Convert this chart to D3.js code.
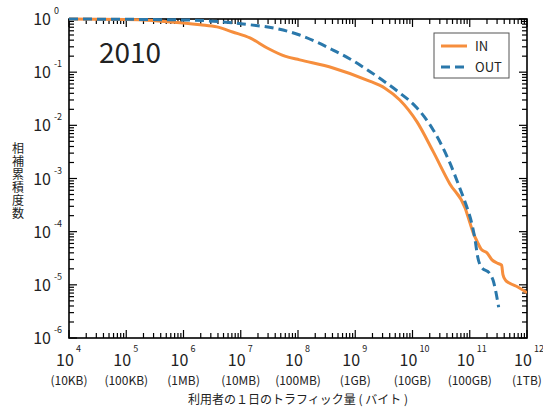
<!DOCTYPE html>
<html>
<head>
<meta charset="utf-8">
<script src="https://cdn.jsdelivr.net/npm/d3@7"></script>
<style>
  html, body { margin: 0; padding: 0; background: #fff; }
  text { font-family: "Noto Sans CJK JP", "Noto Sans", sans-serif; fill: #222; }
</style>
</head>
<body>
<svg id="chart" width="543" height="408"></svg>
<script>
// ---- data ----
const yearLabel = "2010";
const seriesNames = ["IN", "OUT"];
const inBytes = [1e4, 1e5, 1.0e6, 1.95e6, 3.85e6, 7.2e6, 1.45e7, 2.9e7, 5.9e7, 1.07e8, 4.1e8, 1.6e9, 3.3e9, 6.0e9, 1.2e10, 2.3e10, 4.5e10, 8.3e10, 1.0e11, 1.15e11, 1.35e11, 1.6e11, 2.0e11, 2.45e11, 3.0e11, 3.6e11, 3.8e11, 4.2e11, 5.0e11, 6.9e11, 1e12];
const inCcdf  = [1.0, 0.98, 0.84, 0.78, 0.71, 0.57, 0.44, 0.285, 0.20, 0.17, 0.12, 0.071, 0.050, 0.030, 0.0116, 0.0032, 0.00079, 0.00028, 0.00015, 0.000095, 0.000065, 0.000046, 0.00004, 0.0000295, 0.0000257, 0.0000234, 0.0000155, 0.0000123, 0.0000107, 0.0000091, 0.0000071];
const outBytes = [1e4, 1.15e6, 1.1e7, 5.5e7, 1.07e8, 2.1e8, 4.1e8, 8.1e8, 1.6e9, 3.05e9, 6.0e9, 1.2e10, 2.3e10, 4.5e10, 6.7e10, 8.9e10, 1.1e11, 1.24e11, 1.38e11, 1.63e11, 2.2e11, 2.55e11, 3.2e11];
const outCcdf  = [1.0, 0.957, 0.805, 0.62, 0.50, 0.37, 0.26, 0.177, 0.112, 0.0697, 0.0406, 0.0212, 0.0082, 0.00196, 0.00066, 0.00029, 0.000134, 0.000070, 0.000033, 0.000021, 0.0000167, 0.0000123, 0.0000038];
const xTickExps = [4, 5, 6, 7, 8, 9, 10, 11, 12];
const xTickUnits = ["(10KB)", "(100KB)", "(1MB)", "(10MB)", "(100MB)", "(1GB)", "(10GB)", "(100GB)", "(1TB)"];
const yTickExps = [0, -1, -2, -3, -4, -5, -6];
const xTitle = "利用者の１日のトラフィック量 ( バイト )";
const yTitle = "相補累積度数";

// ---- layout ----
const W = 543, H = 408;
const L = 69, R = 527, T = 19, B = 338;
const orange = "#f68e3d", blue = "#2a78ab";

const svg = d3.select("#chart");
const x = d3.scaleLog().domain([1e4, 1e12]).range([L, R]);
const y = d3.scaleLog().domain([1e-6, 1]).range([B, T]);

// minor/major ticks
const majorX = xTickExps.map(e => Math.pow(10, e));
const minorX = [];
for (let e = 4; e < 12; e++) for (let m = 2; m <= 9; m++) minorX.push(m * Math.pow(10, e));
const majorY = yTickExps.map(e => Math.pow(10, e));
const minorY = [];
for (let e = -6; e < 0; e++) for (let m = 2; m <= 9; m++) minorY.push(m * Math.pow(10, e));

const g = svg.append("g");
const tickStyle = sel => sel.attr("stroke", "#000").attr("stroke-width", 1.2);

[[majorX, 8], [minorX, 5]].forEach(([vals, len]) => {
  g.selectAll(null).data(vals).enter().append("line")
    .attr("x1", d => x(d)).attr("x2", d => x(d))
    .attr("y1", B).attr("y2", B - len).call(tickStyle);
  g.selectAll(null).data(vals).enter().append("line")
    .attr("x1", d => x(d)).attr("x2", d => x(d))
    .attr("y1", T).attr("y2", T + len).call(tickStyle);
});
[[majorY, 8], [minorY, 5]].forEach(([vals, len]) => {
  g.selectAll(null).data(vals).enter().append("line")
    .attr("y1", d => y(d)).attr("y2", d => y(d))
    .attr("x1", L).attr("x2", L + len).call(tickStyle);
  g.selectAll(null).data(vals).enter().append("line")
    .attr("y1", d => y(d)).attr("y2", d => y(d))
    .attr("x1", R).attr("x2", R - len).call(tickStyle);
});
g.append("rect").attr("x", L).attr("y", T).attr("width", R - L).attr("height", B - T)
  .attr("fill", "none").attr("stroke", "#000").attr("stroke-width", 1.6);

// lines
const line = d3.line().x(d => x(d[0])).y(d => y(d[1])).curve(d3.curveMonotoneX);
const inData = inBytes.map((b, i) => [b, inCcdf[i]]);
const outData = outBytes.map((b, i) => [b, outCcdf[i]]);

svg.append("clipPath").attr("id", "clip").append("rect")
  .attr("x", L).attr("y", T - 2).attr("width", R - L).attr("height", B - T + 2);

svg.append("path").datum(inData).attr("d", line)
  .attr("fill", "none").attr("stroke", orange).attr("stroke-width", 3)
  .attr("clip-path", "url(#clip)");
svg.append("path").datum(outData).attr("d", line)
  .attr("fill", "none").attr("stroke", blue).attr("stroke-width", 3)
  .attr("stroke-dasharray", "9,5").attr("clip-path", "url(#clip)");

// y tick labels
yTickExps.forEach(e => {
  const yy = y(Math.pow(10, e));
  svg.append("text").attr("x", 51).attr("y", yy + 6).attr("text-anchor", "end")
    .style("font-size", "16px").text("10");
  svg.append("text").attr("x", 54).attr("y", yy - 5).attr("text-anchor", "start")
    .style("font-size", "9px").text(String(e));
});
// x tick labels
xTickExps.forEach((e, i) => {
  const xx = x(Math.pow(10, e));
  svg.append("text").attr("x", xx - 4).attr("y", 366).attr("text-anchor", "middle")
    .style("font-size", "16px").text("10");
  svg.append("text").attr("x", xx + 7).attr("y", 352).attr("text-anchor", "start")
    .style("font-size", "9px").text(String(e));
  svg.append("text").attr("x", xx).attr("y", 385).attr("text-anchor", "middle")
    .style("font-size", "12px").text(xTickUnits[i]);
});

// axis titles
svg.append("text").attr("x", (L + R) / 2).attr("y", 404).attr("text-anchor", "middle")
  .style("font-size", "12px").text(xTitle);
svg.append("text").attr("x", 18).attr("y", 142)
  .style("font-size", "12px")
  .style("writing-mode", "vertical-rl")
  .style("text-orientation", "upright")
  .style("letter-spacing", "1px")
  .text(yTitle);

// year
svg.append("text").attr("x", 99).attr("y", 63).style("font-size", "28px").text(yearLabel);

// legend
const lg = svg.append("g");
lg.append("rect").attr("x", 434).attr("y", 33).attr("width", 75).attr("height", 45)
  .attr("fill", "#fff").attr("stroke", "#555").attr("stroke-width", 1);
const legendItems = [{ name: seriesNames[0], color: orange, dash: null, yy: 46 },
                     { name: seriesNames[1], color: blue, dash: "9,5", yy: 67 }];
legendItems.forEach(it => {
  lg.append("line").attr("x1", 441).attr("x2", 467).attr("y1", it.yy).attr("y2", it.yy)
    .attr("stroke", it.color).attr("stroke-width", 3).attr("stroke-dasharray", it.dash);
  lg.append("text").attr("x", 475).attr("y", it.yy + 5).style("font-size", "13px").text(it.name);
});
</script>
</body>
</html>
